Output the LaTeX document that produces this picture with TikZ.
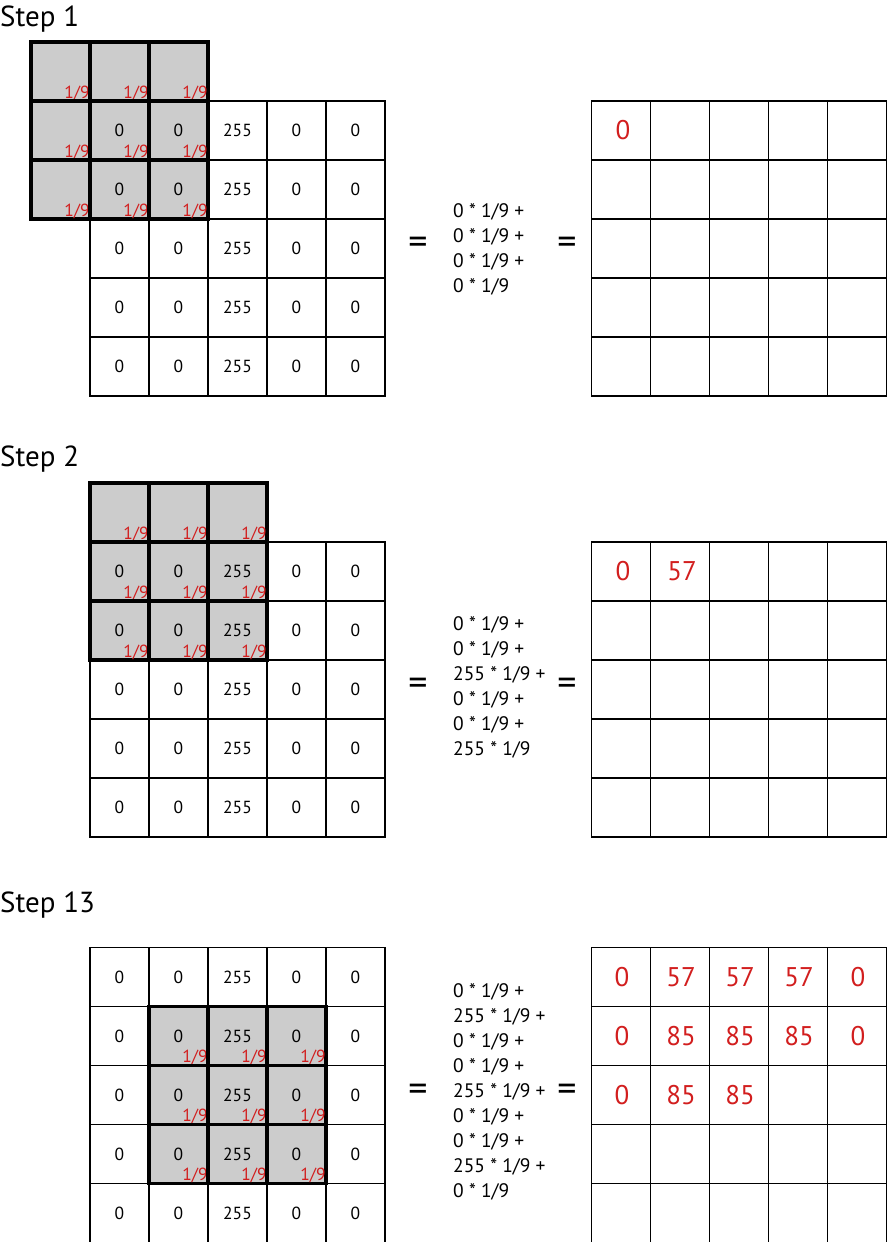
\documentclass[tikz,border=0pt]{standalone}
\usepackage{fontspec}
\setmainfont{PT Sans}
\usetikzlibrary{positioning}
\definecolor{wred}{RGB}{210,30,30}
\begin{document}
\begin{tikzpicture}
		[x=1pt, y=-1pt,
			cell/.style ={rectangle, draw, line width=1.8pt, minimum size=59pt, inner sep=0pt, font=\fontsize{17.5}{19}\selectfont},
 kcell/.style ={rectangle, draw, line width=3.2pt, minimum size=59pt, inner sep=0pt},
 wt/.style ={text=wred, font=\fontsize{17.5}{19}\selectfont, inner sep=1.8pt, anchor=south east},
 res/.style ={cell},
 val/.style ={text=wred, font=\fontsize{27}{29}\selectfont},
 sum/.style ={align=left, anchor=west, inner sep=0pt, font=\fontsize{19.5}{25}\selectfont},
 eq/.style ={font=\fontsize{38}{40}\selectfont},
 title/.style ={anchor=base west, inner sep=0pt, font=\fontsize{29}{31}\selectfont}]
		\useasboundingbox (0,0) rectangle (888,1242);
%		% Step 1
		\node[title] (t1) at (0,26) {Step 1};
		\fill[black!20] (31,42) rectangle (208,219);
		\foreach \r in {1,...,5}
			\foreach \c/\v in {1/0,2/0,3/255,4/0,5/0}
				\node[cell] (a\r\c) at ({60.5+59*\c},{71.5+59*\r}) {\v};
		\foreach \r in {1,2,3}
			\foreach \c in {1,2,3} {
				\node[kcell] (ka\r\c) at ({1.5+59*\c},{12.5+59*\r}) {};
				\node[wt] at (ka\r\c.south east) {1/9};
			}
		\node[eq] (e1a) at (418,246) {=};
		\node[sum] (s1) at (453,249) {0 * 1/9 +\\0 * 1/9 +\\0 * 1/9 +\\0 * 1/9};
		\node[eq] (e1b) at (567,246) {=};
		\foreach \r in {1,...,5}
			\foreach \c in {1,...,5}
				\node[res] (o\r\c) at ({562+59*\c},{71.5+59*\r}) {};
		\node[val] at ([xshift=2pt]o11) {0};
%		% Step 2
		\node[title] (t2) at (0,466) {Step 2};
		\fill[black!20] (90,483) rectangle (267,660);
		\foreach \r in {1,...,5}
			\foreach \c/\v in {1/0,2/0,3/255,4/0,5/0}
				\node[cell] (b\r\c) at ({60.5+59*\c},{512.5+59*\r}) {\v};
		\foreach \r in {1,2,3}
			\foreach \c in {1,2,3} {
				\node[kcell] (kb\r\c) at ({60.5+59*\c},{453.5+59*\r}) {};
				\node[wt] at (kb\r\c.south east) {1/9};
			}
		\node[eq] (e2a) at (418,687) {=};
		\node[sum] (s2) at (453,687) {0 * 1/9 +\\0 * 1/9 +\\255 * 1/9 +\\0 * 1/9 +\\0 * 1/9 +\\255 * 1/9};
		\node[eq] (e2b) at (567,687) {=};
		\foreach \r in {1,...,5}
			\foreach \c in {1,...,5}
				\node[res] (p\r\c) at ({562+59*\c},{512.5+59*\r}) {};
		\foreach \c/\v in {1/0,2/57}
			\node[val] at ([xshift=2pt]p1\c) {\v};
%		% Step 13
		\node[title] (t3) at (0,912) {Step 13};
		\fill[black!20] (149,1007) rectangle (326,1183);
		\foreach \r in {1,...,5}
			\foreach \c/\v in {1/0,2/0,3/255,4/0,5/0}
				\node[cell] (c\r\c) at ({60.5+59*\c},{918+59*\r}) {\v};
		\foreach \r in {1,2,3}
			\foreach \c in {1,2,3} {
				\node[kcell] (kc\r\c) at ({119.5+59*\c},{977+59*\r}) {};
				\node[wt] at (kc\r\c.south east) {1/9};
			}
		\node[eq] (e3a) at (418,1093) {=};
		\node[sum] (s3) at (453,1092) {0 * 1/9 +\\255 * 1/9 +\\0 * 1/9 +\\0 * 1/9 +\\255 * 1/9 +\\0 * 1/9 +\\0 * 1/9 +\\255 * 1/9 +\\0 * 1/9};
		\node[eq] (e3b) at (567,1093) {=};
		\foreach \r in {1,...,5}
			\foreach \c in {1,...,5}
				\node[res] (q\r\c) at ({562+59*\c},{918+59*\r}) {};
		\foreach \r/\c/\v in {1/1/0,1/2/57,1/3/57,1/4/57,1/5/0,2/1/0,2/2/85,2/3/85,2/4/85,2/5/0,3/1/0,3/2/85,3/3/85}
			\node[val] at ([xshift=1pt]q\r\c) {\v};
	\end{tikzpicture}
\end{document}
